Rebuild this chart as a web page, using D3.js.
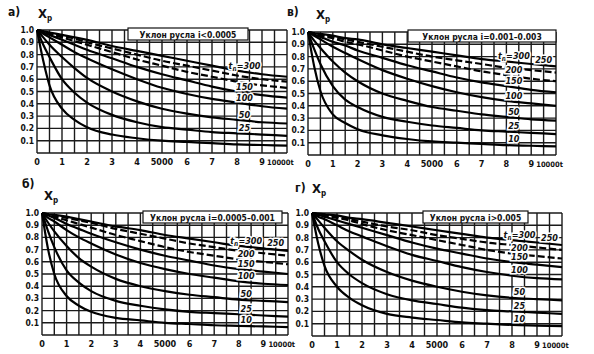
<!DOCTYPE html>
<html>
<head>
<meta charset="utf-8">
<script src="https://cdn.jsdelivr.net/npm/d3@7"></script>
<style>
  body { margin: 0; background: #fff; }
  svg { display: block; }
  text { font-family: "DejaVu Sans Condensed", "DejaVu Sans", sans-serif; font-weight: bold; fill: #111; }
</style>
</head>
<body>
<div id="chart"></div>
<script>
// time axis (t) sample points, shared by all panels
const tValues = [0, 250, 500, 1000, 1500, 2000, 3000, 4000, 5000, 6000, 7000, 8000, 9000, 10000];
const periods = [300, 250, 200, 150, 100, 50, 25, 10];
const xTickLabels = ["0", "1", "2", "3", "4", "5000", "6", "7", "8", "9", "10000t"];
const yTickLabels = ["0.1", "0.2", "0.3", "0.4", "0.5", "0.6", "0.7", "0.8", "0.9", "1.0"];

// а) i < 0.0005
const seriesA = [
  [1, .99, .98, .96, .94, .92, .87, .83, .79, .75, .71, .67, .64, .62],
  [1, .99, .975, .95, .93, .90, .85, .80, .75, .71, .67, .63, .60, .58],
  [1, .985, .97, .94, .91, .88, .82, .76, .71, .66, .62, .58, .55, .53],
  [1, .98, .96, .92, .88, .84, .77, .70, .64, .59, .54, .50, .47, .45],
  [1, .97, .94, .88, .82, .77, .68, .60, .53, .48, .44, .41, .38, .36],
  [1, .94, .88, .78, .69, .61, .50, .42, .36, .32, .29, .27, .25, .24],
  [1, .88, .78, .60, .49, .41, .31, .25, .21, .19, .17, .16, .15, .14],
  [1, .75, .55, .36, .27, .21, .15, .12, .10, .09, .08, .07, .065, .06]
];
// в) i = 0.001-0.003
const seriesB = [
  [1, .99, .985, .97, .95, .94, .90, .87, .84, .81, .78, .76, .74, .72],
  [1, .99, .98, .96, .94, .92, .88, .84, .80, .77, .74, .71, .69, .67],
  [1, .985, .97, .95, .92, .90, .85, .80, .76, .72, .68, .65, .62, .60],
  [1, .98, .96, .92, .89, .85, .79, .73, .68, .63, .59, .56, .53, .51],
  [1, .97, .94, .88, .83, .78, .69, .62, .56, .51, .47, .44, .42, .40],
  [1, .93, .87, .76, .67, .60, .50, .44, .39, .36, .33, .31, .29, .28],
  [1, .86, .74, .56, .45, .39, .31, .27, .24, .22, .20, .19, .18, .17],
  [1, .72, .52, .33, .26, .21, .16, .13, .11, .10, .09, .08, .075, .07]
];
// б) i = 0.0005-0.001
const seriesC = [
  [1, .99, .985, .97, .95, .93, .89, .86, .82, .79, .76, .73, .71, .69],
  [1, .99, .98, .96, .94, .92, .87, .83, .79, .75, .72, .69, .67, .65],
  [1, .985, .97, .94, .91, .88, .82, .77, .72, .68, .65, .62, .60, .58],
  [1, .98, .96, .91, .87, .83, .76, .70, .65, .61, .57, .54, .52, .50],
  [1, .96, .93, .86, .80, .75, .66, .59, .54, .50, .47, .44, .42, .41],
  [1, .92, .85, .73, .63, .56, .46, .40, .36, .33, .31, .29, .28, .27],
  [1, .85, .72, .53, .43, .36, .28, .24, .21, .19, .18, .17, .16, .15],
  [1, .70, .50, .32, .24, .19, .14, .12, .10, .09, .08, .075, .07, .065]
];
// г) i > 0.005
const seriesD = [
  [1, .995, .99, .98, .96, .95, .92, .89, .86, .83, .80, .78, .76, .74],
  [1, .99, .985, .97, .95, .93, .89, .86, .82, .79, .76, .74, .72, .70],
  [1, .99, .98, .96, .94, .91, .86, .82, .78, .74, .70, .67, .65, .63],
  [1, .985, .97, .94, .91, .88, .82, .76, .71, .67, .63, .60, .58, .56],
  [1, .97, .95, .90, .85, .81, .73, .66, .61, .56, .52, .49, .47, .46],
  [1, .94, .88, .77, .69, .62, .52, .45, .40, .36, .33, .31, .30, .29],
  [1, .87, .77, .60, .50, .43, .34, .29, .26, .23, .21, .20, .19, .18],
  [1, .75, .57, .40, .31, .25, .18, .15, .13, .11, .10, .09, .085, .08]
];

const panels = [
  { letter: "а)", slope: "Уклон русла  i<0.0005", series: seriesA, labelled: [300, 150, 100, 50, 25],
    x0: 37, x1: 287, yTop: 30, yBot: 153, box: [128, 248], head: [8, 16, 38, 18] },
  { letter: "в)", slope: "Уклон русла  i=0.001–0.003", series: seriesB, labelled: periods,
    x0: 308, x1: 556, yTop: 32, yBot: 155, box: [408, 556], head: [287, 16, 316, 19] },
  { letter: "б)", slope: "Уклон русла  i=0.0005–0.001", series: seriesC, labelled: periods,
    x0: 42, x1: 288, yTop: 213, yBot: 335, box: [143, 282], head: [22, 188, 44, 200] },
  { letter: "г)", slope: "Уклон русла  i>0.005", series: seriesD, labelled: periods,
    x0: 312, x1: 562, yTop: 213, yBot: 336, box: [423, 528], head: [295, 192, 312, 193] }
];

const width = 594, height = 354;
const svg = d3.select("#chart").append("svg")
  .attr("width", width).attr("height", height);

panels.forEach(p => {
  const x = d3.scaleLinear().domain([0, 10000]).range([p.x0, p.x1]);
  const y = d3.scaleLinear().domain([0, 1]).range([p.yBot, p.yTop]);
  const g = svg.append("g");

  // grid
  g.append("g").selectAll("line")
    .data(d3.range(0, 10001, 500))
    .join("line")
      .attr("x1", d => x(d)).attr("x2", d => x(d))
      .attr("y1", y(1)).attr("y2", y(0))
      .attr("stroke", "#1a1a1a").attr("stroke-width", 1.4);
  g.append("g").selectAll("line")
    .data(d3.range(0, 11).map(d => d / 10))
    .join("line")
      .attr("x1", x(0)).attr("x2", x(10000))
      .attr("y1", d => y(d)).attr("y2", d => y(d))
      .attr("stroke", "#1a1a1a").attr("stroke-width", 1.4);

  // curves
  const line = d3.line()
    .x((d, i) => x(tValues[i]))
    .y(d => y(d))
    .curve(d3.curveMonotoneX);
  g.append("g").selectAll("path")
    .data(p.series)
    .join("path")
      .attr("d", line)
      .attr("fill", "none")
      .attr("stroke", "#000")
      .attr("stroke-width", 2.2)
      .attr("stroke-dasharray", (d, i) => (periods[i] === 250 || periods[i] === 200) ? "7,3" : null);

  // curve labels
  const lab = g.append("g");
  p.series.forEach((s, i) => {
    const per = periods[i];
    if (!p.labelled.includes(per)) return;
    const far = per === 250;
    const tl = far ? 9500 : 8300;
    const v = d3.interpolateNumber(s[11], s[12])(far ? 1.5 : (tl - 8000) / 1000);
    const t = lab.append("text")
      .attr("x", x(tl)).attr("y", y(v) - (far ? 8 : 3))
      .attr("text-anchor", "middle")
      .attr("font-size", 9)
      .attr("font-style", "italic")
      .attr("stroke", "#fff").attr("stroke-width", 3).attr("paint-order", "stroke");
    if (per === 300) {
      t.text("t");
      t.append("tspan").attr("font-size", 7).attr("dy", 2).text("п");
      t.append("tspan").attr("dy", -2).text("=300");
    } else {
      t.text(per);
    }
  });

  // slope box
  g.append("rect")
    .attr("x", p.box[0]).attr("y", y(1) - 2)
    .attr("width", p.box[1] - p.box[0]).attr("height", 12)
    .attr("fill", "#fff").attr("stroke", "#111").attr("stroke-width", 1.2);
  g.append("text")
    .attr("x", (p.box[0] + p.box[1]) / 2).attr("y", y(1) + 7.5)
    .attr("text-anchor", "middle").attr("font-size", 8.5)
    .text(p.slope);

  // tick labels
  g.append("g").selectAll("text")
    .data(xTickLabels)
    .join("text")
      .attr("x", (d, i) => i === 10 ? x(9000) + 5 : x(i * 1000))
      .attr("y", p.yBot + 12)
      .attr("text-anchor", (d, i) => i === 10 ? "start" : "middle")
      .attr("font-size", (d, i) => i === 10 ? 7.5 : 9)
      .text(d => d);
  g.append("g").selectAll("text")
    .data(yTickLabels)
    .join("text")
      .attr("x", p.x0 - 3)
      .attr("y", (d, i) => y((i + 1) / 10) + 3)
      .attr("text-anchor", "end")
      .attr("font-size", 8.5)
      .text(d => d);

  // panel heading
  g.append("text")
    .attr("x", p.head[0]).attr("y", p.head[1])
    .attr("font-size", 12).text(p.letter);
  const h = g.append("text")
    .attr("x", p.head[2]).attr("y", p.head[3])
    .attr("font-size", 13).attr("font-weight", "normal").text("X");
  h.append("tspan").attr("font-size", 8).attr("dy", 3).attr("font-weight", "bold").text("р");
});
</script>
</body>
</html>
